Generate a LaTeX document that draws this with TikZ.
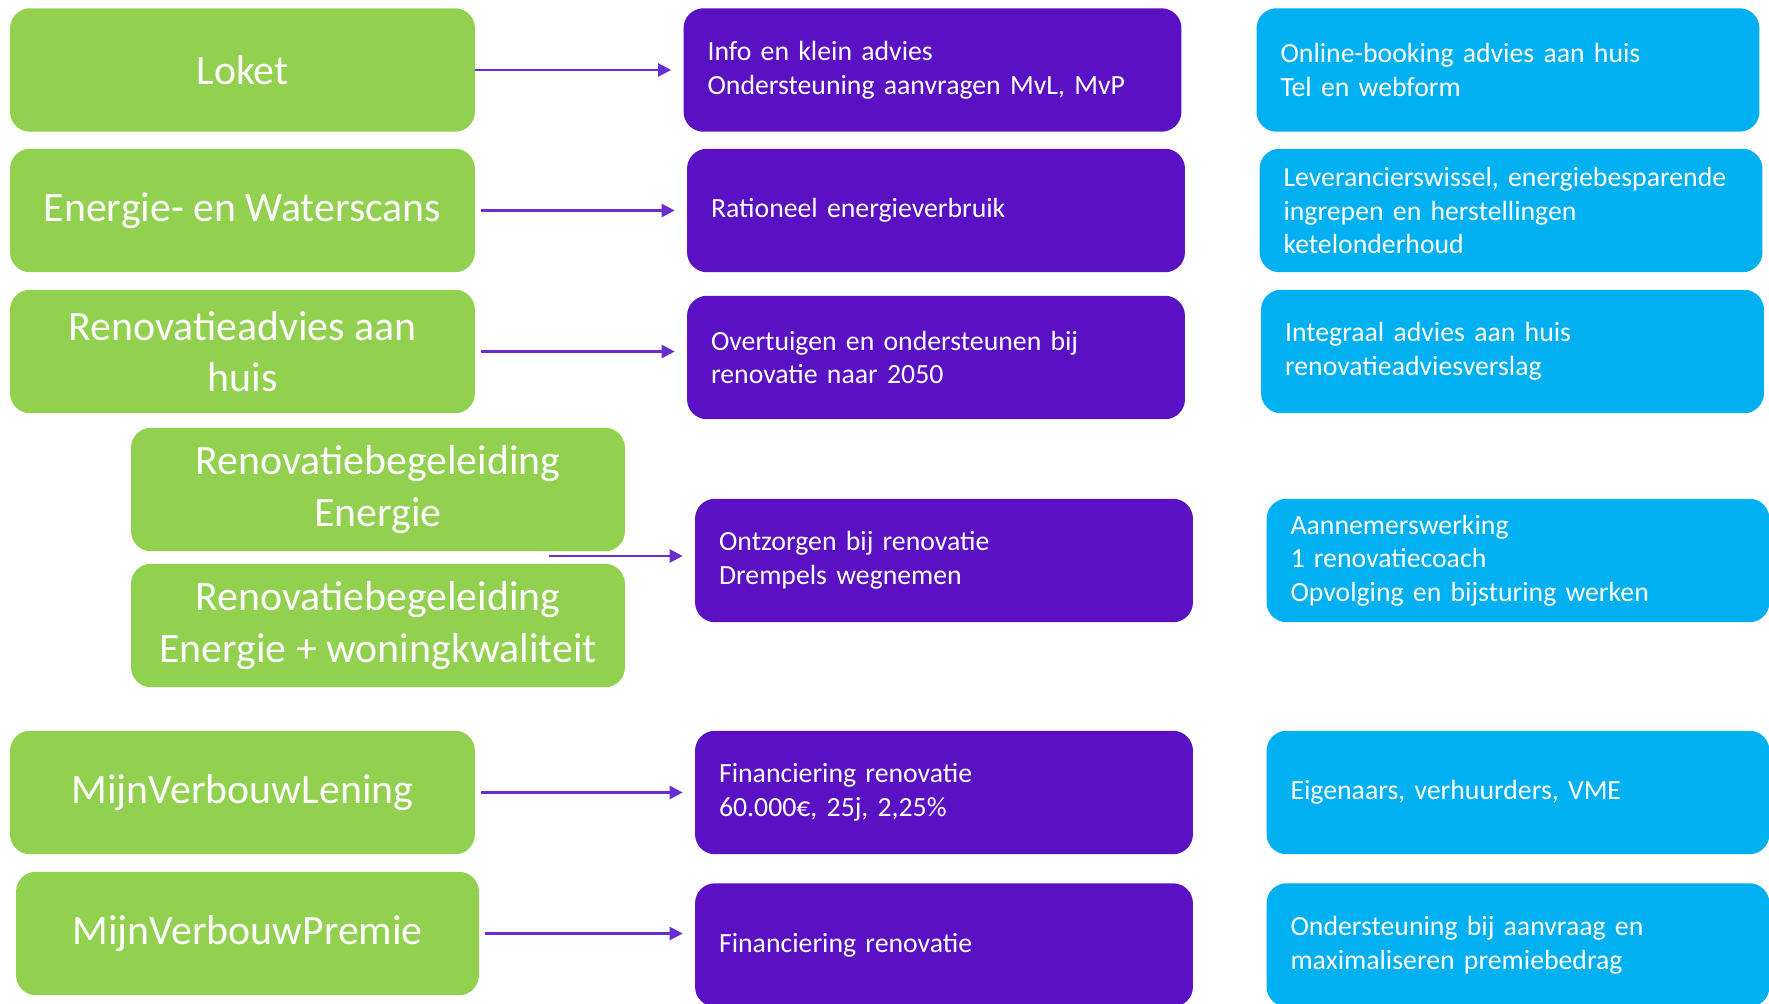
\documentclass[tikz,border=0pt]{standalone}
\usepackage{fontspec}
\setmainfont{Carlito}
\usetikzlibrary{positioning}
\usetikzlibrary{arrows.meta}
\definecolor{loketgroen}{HTML}{92D050}
\definecolor{doelpaars}{HTML}{5A10C3}
\definecolor{extrablauw}{HTML}{00B0F0}
\definecolor{pijlpaars}{HTML}{6A2ED0}

\begin{document}
\begin{tikzpicture}[x=0.02cm, y=-0.02cm,
  dienst/.style={fill=loketgroen, text=white, rounded corners=0.4cm, minimum width=9.3cm, minimum height=2.47cm, align=center, font=\fontsize{23.8}{29.2}\selectfont},
  doel/.style={fill=doelpaars, text=white, rounded corners=0.4cm, text width=9.0cm, inner xsep=0.48cm, minimum height=2.47cm, align=left, font=\fontsize{15.8}{19.2}\selectfont},
  extra/.style={doel, fill=extrablauw, text width=9.1cm},
  link/.style={pijlpaars, line width=1.3pt, -{Triangle[length=0.26cm, width=0.26cm]}, shorten <=0.12cm, shorten >=0.24cm}]

  \fill[white] (0,0) rectangle (1769,1004);
  \useasboundingbox (0,0) rectangle (1769,1004);
  \clip (0,0) rectangle (1769,1004);

  % diensten (links)
  \node[dienst] (loket) at (242.5,70) {Loket};
  \node[dienst] (scans) at (242.5,210.5) {Energie- en Waterscans};
  \node[dienst] (advies) at (242.5,351.5) {Renovatieadvies aan\\huis};
  \node[dienst, minimum width=9.88cm] (begE) at (378,489.5) {Renovatiebegeleiding\\Energie};
  \node[dienst, minimum width=9.88cm] (begW) at (378,625.5) {Renovatiebegeleiding\\Energie + woningkwaliteit};
  \node[dienst] (lening) at (242.5,792.5) {MijnVerbouwLening};
  \node[dienst, minimum width=9.26cm] (premie) at (247.5,933.5) {MijnVerbouwPremie};

  % doelen (midden)
  \node[doel] (dLoket) at (932.5,70) {Info en klein advies\\Ondersteuning aanvragen MvL, MvP};
  \node[doel] (dScans) at (936,210.5) {Rationeel energieverbruik};
  \node[doel] (dAdvies) at (936,357.5) {Overtuigen en ondersteunen bij\\renovatie naar 2050};
  \node[doel] (dBeg) at (944,560.5) {Ontzorgen bij renovatie\\Drempels wegnemen};
  \node[doel] (dLening) at (944,792.5) {Financiering renovatie\\60.000€, 25j, 2,25\%};
  \node[doel] (dPremie) at (944,945) {Financiering renovatie};

  % invulling (rechts)
  \node[extra] (xLoket) at (1508,70) {Online-booking advies aan huis\\Tel en webform};
  \node[extra] (xScans) at (1511,210.5) {Leverancierswissel, energiebesparende\\ingrepen en herstellingen\\ketelonderhoud};
  \node[extra] (xAdvies) at (1512.5,351.5) {Integraal advies aan huis\\renovatieadviesverslag};
  \node[extra] (xBeg) at (1518,560.5) {Aannemerswerking\\1 renovatiecoach\\Opvolging en bijsturing werken};
  \node[extra] (xLening) at (1518,792.5) {Eigenaars, verhuurders, VME};
  \node[extra] (xPremie) at (1518,945) {Ondersteuning bij aanvraag en\\maximaliseren premiebedrag};

  % pijlen
  \coordinate (tussen) at (549,556); % tussen beide begeleidingen
  \draw[link, shorten <=0pt] (loket.east) -- (loket.east -| dLoket.west);
  \draw[link] (scans.east) -- (scans.east -| dScans.west);
  \draw[link] (advies.east) -- (advies.east -| dAdvies.west);
  \draw[link, shorten <=0pt] (tussen) -- (tussen -| dBeg.west);
  \draw[link] (lening.east) -- (lening.east -| dLening.west);
  \draw[link] (premie.east) -- (premie.east -| dPremie.west);

\end{tikzpicture}
\end{document}
